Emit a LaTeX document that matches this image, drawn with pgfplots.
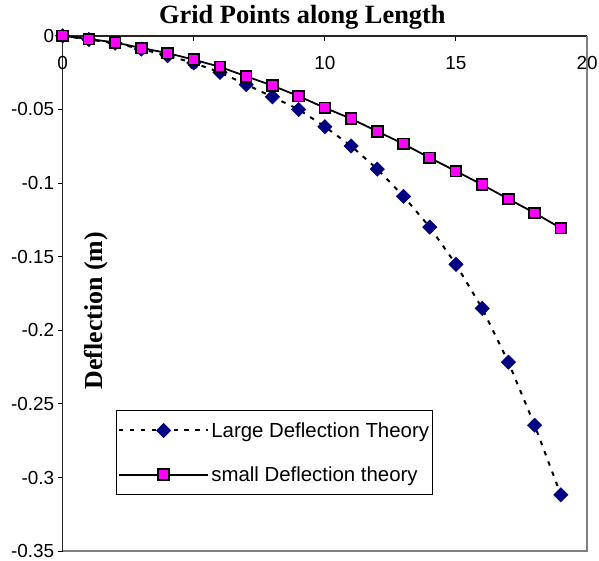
\documentclass[border=0pt]{standalone}
\usepackage{fontspec}
\setmainfont{Liberation Sans}
\newfontfamily\timesfont{Liberation Serif}
\usepackage{pgfplots}
\pgfplotsset{compat=1.18}
\definecolor{navyblue}{RGB}{0,0,128}
\definecolor{mag}{RGB}{255,0,255}
\begin{document}
\begin{tikzpicture}
\begin{axis}[
  name=ax,
  scale only axis, width=527pt, height=518pt,
  xmin=0, xmax=20, ymin=-0.35, ymax=0,
  clip=false,
  axis x line*=top, axis y line*=left,
  axis line style={line width=1.5pt, black!85},
  xtick={0,5,10,15,20}, xticklabels={0,5,10,15,20},
  ytick={-0.35,-0.3,-0.25,-0.2,-0.15,-0.1,-0.05,0},
  yticklabels={-0.35,-0.3,-0.25,-0.2,-0.15,-0.1,-0.05,0},
  tick align=inside,
  major tick length=5pt,
  tick style={black, line width=1pt},
  ytick style={xshift=-5pt},
  ticklabel style={font=\fontsize{19}{21}\selectfont},
  xticklabel style={anchor=center, yshift=-27pt},
  yticklabel style={xshift=-5pt},
  title={Grid Points along Length},
  title style={font=\timesfont\bfseries\fontsize{26.5}{30}\selectfont, at={(axis description cs:0.457,1)}, anchor=base, yshift=6pt},
  ylabel={Deflection (m)},
  ylabel style={font=\timesfont\bfseries\fontsize{26}{30}\selectfont, at={(axis description cs:0.0645,0.467)}, anchor=center},
  legend image code/.code={\draw[mark repeat=2, mark phase=2, #1] plot coordinates {(0pt,0pt) (45pt,0pt) (90pt,0pt)};},
  legend style={at={(axis description cs:0.1025,0.274)}, anchor=north west, draw=black, line width=0.8pt,
    font=\fontsize{20.5}{24}\selectfont, row sep=24pt, inner xsep=1pt, inner ysep=10pt},
  legend cell align=left,
]
\draw[black!50, line width=1.5pt] (axis cs:0,-0.35) -- (axis cs:20,-0.35) -- (axis cs:20,0);
\addplot[black, line width=2pt, dash pattern=on 4.5pt off 6.5pt, mark=square*, mark size=5.1pt,
  mark options={solid, rotate=45, fill=navyblue, draw=navyblue, line width=0.5pt}] coordinates {
  (0,0) (1,-0.0025) (2,-0.005) (3,-0.009) (4,-0.0135) (5,-0.0184) (6,-0.0248) (7,-0.0331)
  (8,-0.0414) (9,-0.0500) (10,-0.0617) (11,-0.0748) (12,-0.0905) (13,-0.1090) (14,-0.1299)
  (15,-0.1552) (16,-0.1851) (17,-0.2216) (18,-0.2644) (19,-0.3117)};
\addlegendentry{Large Deflection Theory\hspace{9pt}}
\addplot[black, line width=1.8pt, mark=square*, mark size=5.4pt,
  mark options={fill=mag, draw=black, line width=1.8pt}] coordinates {
  (0,0) (1,-0.0022) (2,-0.0045) (3,-0.0083) (4,-0.0117) (5,-0.0162) (6,-0.0211) (7,-0.0275)
  (8,-0.0338) (9,-0.0410) (10,-0.0489) (11,-0.0563) (12,-0.0649) (13,-0.0734) (14,-0.0829)
  (15,-0.0919) (16,-0.1011) (17,-0.1108) (18,-0.1203) (19,-0.1306)};
\addlegendentry{small Deflection theory\hspace{9pt}}
\end{axis}
\pgfresetboundingbox
\path ([shift={(-63pt,-9pt)}]ax.south west) rectangle ([shift={(12pt,36pt)}]ax.north east);
\end{tikzpicture}
\end{document}
